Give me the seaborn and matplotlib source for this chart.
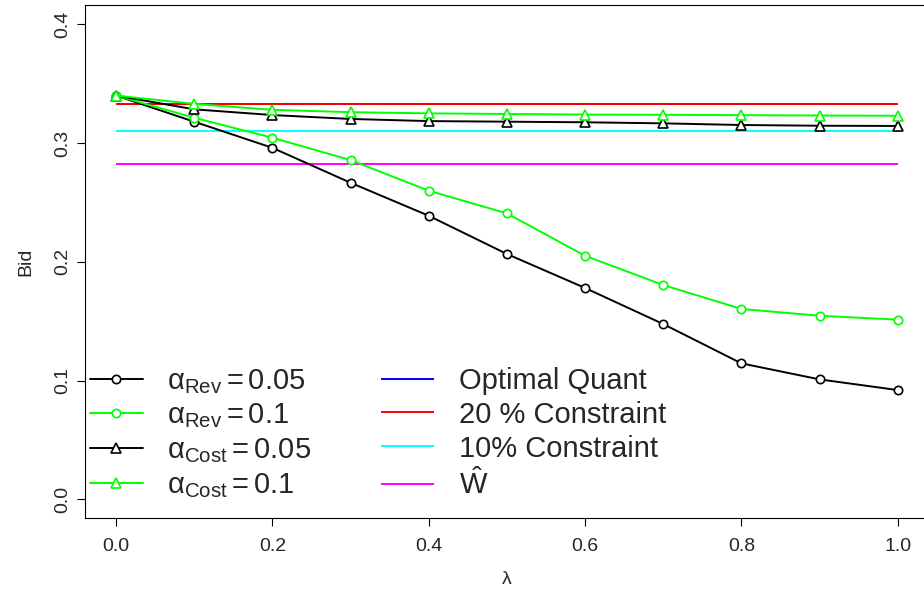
"""Bid vs lambda for revenue / cost constrained strategies."""

import matplotlib.pyplot as plt
import numpy as np
import seaborn as sns

lam = [0.0, 0.1, 0.2, 0.3, 0.4, 0.5, 0.6, 0.7, 0.8, 0.9, 1.0]

rev_005 = [0.340, 0.318, 0.296, 0.2666, 0.2388, 0.2066, 0.178, 0.1476, 0.1145, 0.101, 0.092]
rev_01 = [0.340, 0.3213, 0.3045, 0.2857, 0.2599, 0.2408, 0.2051, 0.1805, 0.1603, 0.1546, 0.1513]
cost_005 = [0.340, 0.3284, 0.3236, 0.3203, 0.3185, 0.318, 0.3175, 0.3166, 0.3152, 0.3146, 0.3144]
cost_01 = [0.340, 0.333, 0.328, 0.326, 0.325, 0.3245, 0.324, 0.3238, 0.3235, 0.3232, 0.323]

optimal_quant = 0.3326
constraint_20 = 0.3326
constraint_10 = 0.3101
w_hat = 0.2821

sns.set_theme(style="ticks")
plt.rcParams["font.family"] = ["Liberation Sans", "DejaVu Sans"]
plt.rcParams["mathtext.fontset"] = "custom"
plt.rcParams["mathtext.rm"] = "Liberation Sans"
plt.rcParams["mathtext.it"] = "Liberation Sans:italic"
plt.rcParams["mathtext.cal"] = "Liberation Sans"

fig = plt.figure(figsize=(9.24, 5.97), dpi=100)
ax = fig.add_axes([0.0917, 0.1318, 0.9137, 0.8593])

GREEN = "#00ff00"
mk = dict(markerfacecolor="white", markeredgewidth=1.2, linewidth=1.4)

sns.lineplot(x=lam, y=rev_005, ax=ax, color="black", marker="o", markersize=6,
             markeredgecolor="black", label=r"$\mathrm{\alpha}_{\mathrm{Rev}} = 0.05$", **mk)
sns.lineplot(x=lam, y=rev_01, ax=ax, color=GREEN, marker="o", markersize=6,
             markeredgecolor=GREEN, label=r"$\mathrm{\alpha}_{\mathrm{Rev}} = 0.1$", **mk)
sns.lineplot(x=lam, y=cost_005, ax=ax, color="black", marker="^", markersize=7.5,
             markeredgecolor="black", label=r"$\mathrm{\alpha}_{\mathrm{Cost}} = 0.05$", **mk)
sns.lineplot(x=lam, y=cost_01, ax=ax, color=GREEN, marker="^", markersize=7.5,
             markeredgecolor=GREEN, label=r"$\mathrm{\alpha}_{\mathrm{Cost}} = 0.1$", **mk)

ax.hlines(optimal_quant, lam[0], lam[-1], color="blue", lw=1.4, label="Optimal Quant", zorder=1)
ax.hlines(constraint_20, lam[0], lam[-1], color="red", lw=1.4, label="20 % Constraint", zorder=1.1)
ax.hlines(constraint_10, lam[0], lam[-1], color="cyan", lw=1.4, label="10% Constraint", zorder=1.1)
ax.hlines(w_hat, lam[0], lam[-1], color="magenta", lw=1.4, label=r"$\hat{\mathrm{W}}$", zorder=1.1)

ax.set_xlim(-0.04, 1.04)
ax.set_ylim(-0.016, 0.416)
ax.set_xticks(np.arange(0, 1.01, 0.2))
ax.set_xticklabels([f"{v:.1f}" for v in np.arange(0, 1.01, 0.2)])
ax.set_yticks(np.arange(0, 0.41, 0.1))
ax.set_yticklabels([f"{v:.1f}" for v in np.arange(0, 0.41, 0.1)], rotation=90, va="center")
ax.tick_params(length=6, width=0.8, labelsize=14, color="black")
ax.tick_params(axis="x", pad=8)
ax.tick_params(axis="y", pad=4)
ax.set_xlabel(r"$\mathrm{\lambda}$", fontsize=14, labelpad=12)
ax.set_ylabel("Bid", fontsize=14, labelpad=14)
for s in ax.spines.values():
    s.set_color("black")
    s.set_linewidth(0.8)

handles, labels = ax.get_legend_handles_labels()
leg = ax.legend(handles, labels, ncol=2, loc="lower left",
                bbox_to_anchor=(90 / 924, (597 - 500) / 597), bbox_transform=fig.transFigure,
                frameon=False, fontsize=21, borderpad=0, borderaxespad=0,
                handlelength=1.8, handletextpad=0.85, columnspacing=2.4, labelspacing=0.2)

fig.savefig("out.png", dpi=100)
